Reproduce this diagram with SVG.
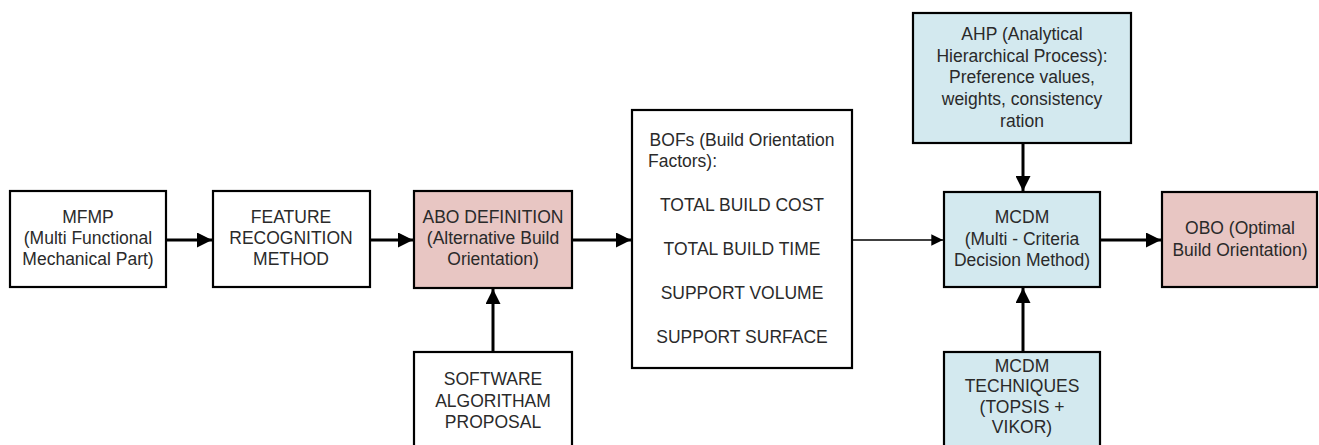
<svg xmlns="http://www.w3.org/2000/svg" width="1319" height="445" viewBox="0 0 1319 445">
<style>
.box{stroke:#000;stroke-width:2.2;}
.w{fill:#fff;}
.p{fill:#e8c6c3;}
.b{fill:#d3e9ef;}
text{font-family:"Liberation Sans",Arial,sans-serif;font-size:17.5px;fill:#2a2a2a;text-anchor:middle;}
.c{stroke:#000;stroke-width:3;fill:none;}
.t{stroke:#000;stroke-width:1.3;fill:none;}
</style>
<defs>
<marker id="ah" viewBox="0 0 10 10" refX="10" refY="5" markerWidth="5" markerHeight="5" markerUnits="strokeWidth" orient="auto"><path d="M0,0 L10,5 L0,10 z" fill="#000"/></marker>
<marker id="ahs" viewBox="0 0 10 10" refX="10" refY="5" markerWidth="9" markerHeight="9" markerUnits="strokeWidth" orient="auto"><path d="M0,0 L10,5 L0,10 z" fill="#000"/></marker>
</defs>
<g id="connectors">
<line class="c" x1="166" y1="240" x2="212" y2="240" marker-end="url(#ah)"/>
<line class="c" x1="370" y1="240" x2="413" y2="240" marker-end="url(#ah)"/>
<line class="c" x1="572" y1="240" x2="631" y2="240" marker-end="url(#ah)"/>
<line class="c" x1="493" y1="352" x2="493" y2="289" marker-end="url(#ah)"/>
<line class="t" x1="852" y1="240" x2="943" y2="240" marker-end="url(#ahs)"/>
<line class="c" x1="1023" y1="143" x2="1023" y2="191" marker-end="url(#ah)"/>
<line class="c" x1="1023" y1="352" x2="1023" y2="288" marker-end="url(#ah)"/>
<line class="c" x1="1100" y1="240" x2="1161" y2="240" marker-end="url(#ah)"/>
</g>
<g id="mfmp">
<rect class="box w" x="10" y="191" width="156" height="96"/>
<text x="88" y="223">MFMP</text>
<text x="88" y="244">(Multi Functional</text>
<text x="88" y="265">Mechanical Part)</text>
</g>
<g id="feature">
<rect class="box w" x="213" y="191" width="157" height="96"/>
<text x="291" y="223">FEATURE</text>
<text x="291" y="244">RECOGNITION</text>
<text x="291" y="265">METHOD</text>
</g>
<g id="abo">
<rect class="box p" x="414" y="191" width="158" height="97"/>
<text x="493" y="223">ABO DEFINITION</text>
<text x="493" y="244">(Alternative Build</text>
<text x="493" y="265">Orientation)</text>
</g>
<g id="software">
<rect class="box w" x="414" y="352" width="158" height="100"/>
<text x="493" y="385">SOFTWARE</text>
<text x="493" y="407">ALGORITHAM</text>
<text x="493" y="428">PROPOSAL</text>
</g>
<g id="bofs">
<rect class="box w" x="632" y="110" width="220" height="258"/>
<text x="742" y="146">BOFs (Build Orientation</text>
<text x="648" y="167" style="text-anchor:start">Factors):</text>
<text x="742" y="211">TOTAL BUILD COST</text>
<text x="742" y="255">TOTAL BUILD TIME</text>
<text x="742" y="299">SUPPORT VOLUME</text>
<text x="742" y="343">SUPPORT SURFACE</text>
</g>
<g id="ahp">
<rect class="box b" x="913" y="13" width="218" height="130"/>
<text x="1022" y="40">AHP (Analytical</text>
<text x="1022" y="62">Hierarchical Process):</text>
<text x="1022" y="83">Preference values,</text>
<text x="1022" y="105">weights, consistency</text>
<text x="1022" y="127">ration</text>
</g>
<g id="mcdm">
<rect class="box b" x="944" y="192" width="156" height="95"/>
<text x="1022" y="223">MCDM</text>
<text x="1022" y="245">(Multi - Criteria</text>
<text x="1022" y="266">Decision Method)</text>
</g>
<g id="techniques">
<rect class="box b" x="944" y="352" width="156" height="100"/>
<text x="1022" y="372">MCDM</text>
<text x="1022" y="392">TECHNIQUES</text>
<text x="1022" y="413">(TOPSIS +</text>
<text x="1022" y="433">VIKOR)</text>
</g>
<g id="obo">
<rect class="box p" x="1162" y="192" width="155" height="95"/>
<text x="1240" y="234">OBO (Optimal</text>
<text x="1240" y="256">Build Orientation)</text>
</g>
</svg>
